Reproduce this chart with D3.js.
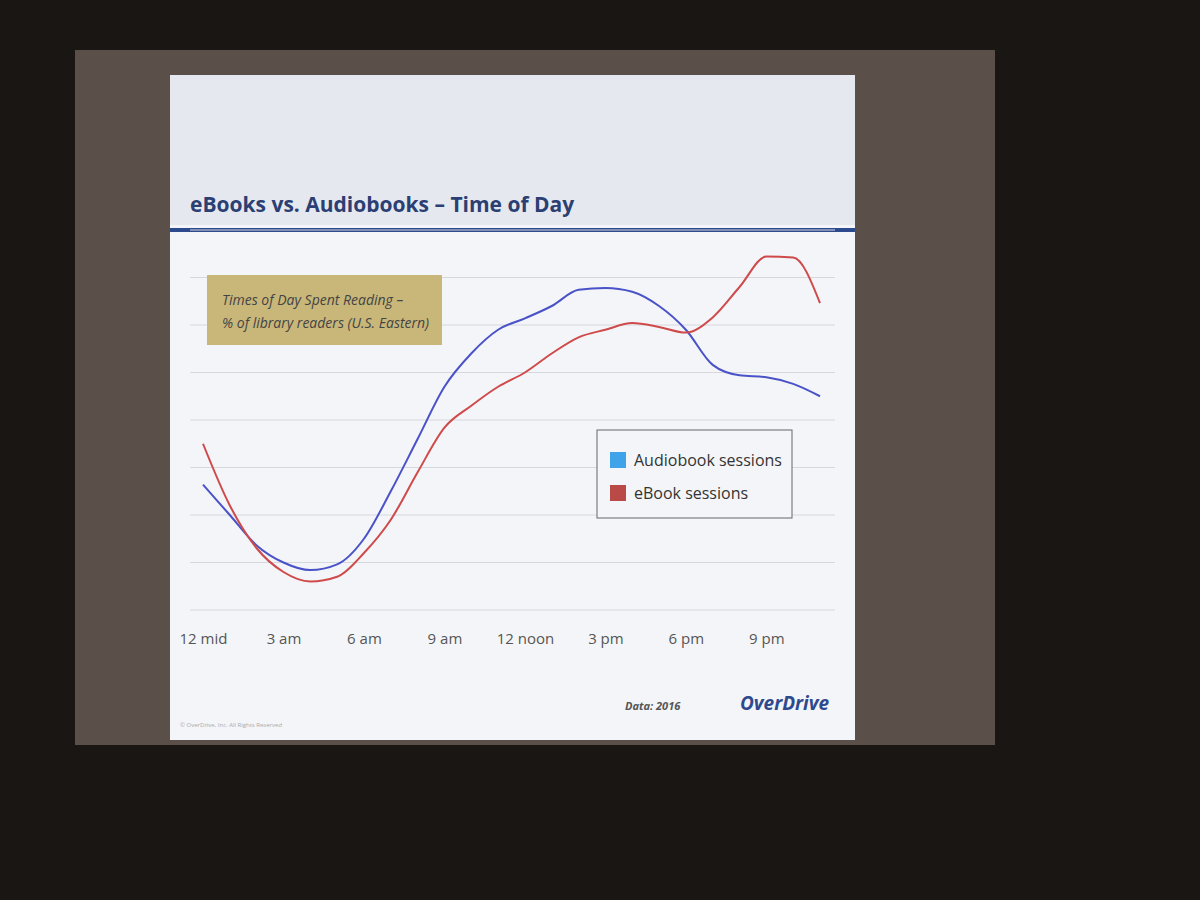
<!DOCTYPE html>
<html><head><meta charset="utf-8">
<script src="https://cdn.jsdelivr.net/npm/d3@7"></script>
<style>body{margin:0;background:#1a1614;}svg{display:block}</style>
</head><body><svg id="c" width="1200" height="900"></svg>
<script>
const hours = d3.range(24);
const tickHours = [0,3,6,9,12,15,18,21];
const tickLabels = ["12 mid","3 am","6 am","9 am","12 noon","3 pm","6 pm","9 pm"];
const audiobook = [13.2,10,6.8,5,4.2,4.8,7.5,12.5,18,23.5,27,29.5,30.7,32,33.7,33.9,33.5,32,29.5,25.8,24.7,24.5,23.8,22.5];
const ebook = [17.5,11,6.5,4,3,3.5,6,9.5,14.5,19.2,21.5,23.5,25,27,28.7,29.5,30.2,29.8,29.2,30.8,34,37.2,37.1,32.3];
const gridVals = [0,5,10,15,20,25,30,35,40];

const svg = d3.select("#c");
// room
svg.append("rect").attr("x",75).attr("y",50).attr("width",920).attr("height",695).attr("fill","#5a4f49");
// slide
svg.append("rect").attr("x",170).attr("y",75).attr("width",685).attr("height",665).attr("fill","#f4f5f8");
svg.append("rect").attr("x",170).attr("y",75).attr("width",685).attr("height",150).attr("fill","#e6e8ef");
svg.append("text").attr("x",190).attr("y",212).attr("font-family","Open Sans, sans-serif").attr("font-weight","bold")
  .attr("font-size",21).attr("fill","#2b3f73").text("eBooks vs. Audiobooks – Time of Day");
svg.append("line").attr("x1",170).attr("x2",855).attr("y1",230).attr("y2",230).attr("stroke","#2e4a8e").attr("stroke-width",4);

const x = d3.scaleLinear().domain([0,23]).range([203,820]);
const y = d3.scaleLinear().domain([0,40]).range([610,230]);
const g = svg.append("g");
g.selectAll(".grid").data(gridVals).join("line").attr("x1",190).attr("x2",835)
  .attr("y1",d=>y(d)).attr("y2",d=>y(d)).attr("stroke","#d6d8de").attr("stroke-width",1);
const xAxis = d3.axisBottom(x).tickValues(tickHours).tickFormat((d,i)=>tickLabels[i]).tickSize(0);
const ax = g.append("g").attr("transform","translate(0,630)").call(xAxis);
ax.select(".domain").remove();
ax.selectAll("text").attr("font-family","Open Sans, sans-serif").attr("font-size",15).attr("fill","#555");

const line = d3.line().x((d,i)=>x(hours[i])).y(d=>y(d)).curve(d3.curveMonotoneX);
g.append("path").datum(audiobook).attr("d",line).attr("fill","none").attr("stroke","#4a52c8").attr("stroke-width",2);
g.append("path").datum(ebook).attr("d",line).attr("fill","none").attr("stroke","#cf4a4a").attr("stroke-width",2);

// annotation box
svg.append("rect").attr("x",207).attr("y",275).attr("width",235).attr("height",70).attr("fill","#c9b77a");
svg.append("text").attr("x",222).attr("y",305).attr("font-family","Open Sans, sans-serif").attr("font-style","italic")
  .attr("font-size",14).attr("fill","#444").text("Times of Day Spent Reading –");
svg.append("text").attr("x",222).attr("y",328).attr("font-family","Open Sans, sans-serif").attr("font-style","italic")
  .attr("font-size",14).attr("fill","#444").text("% of library readers (U.S. Eastern)");

// legend
const lg = svg.append("g");
lg.append("rect").attr("x",597).attr("y",430).attr("width",195).attr("height",88).attr("fill","#f4f5f8").attr("stroke","#666");
const leg = [["Audiobook sessions","#3ea3e8"],["eBook sessions","#b94a48"]];
leg.forEach((d,i)=>{
  lg.append("rect").attr("x",610).attr("y",452+i*33).attr("width",16).attr("height",16).attr("fill",d[1]);
  lg.append("text").attr("x",634).attr("y",466+i*33).attr("font-family","Open Sans, sans-serif").attr("font-size",16).attr("fill","#333").text(d[0]);
});

svg.append("text").attr("x",625).attr("y",710).attr("font-family","Open Sans, sans-serif").attr("font-style","italic")
  .attr("font-weight","bold").attr("font-size",11).attr("fill","#555").text("Data: 2016");
svg.append("text").attr("x",740).attr("y",710).attr("font-family","Open Sans, sans-serif").attr("font-style","italic")
  .attr("font-weight","bold").attr("font-size",19).attr("fill","#2e4a8e").text("OverDrive");
svg.append("text").attr("x",180).attr("y",727).attr("font-family","Open Sans, sans-serif")
  .attr("font-size",6).attr("fill","#aaa").text("© OverDrive, Inc.  All Rights Reserved");
</script></body></html>
